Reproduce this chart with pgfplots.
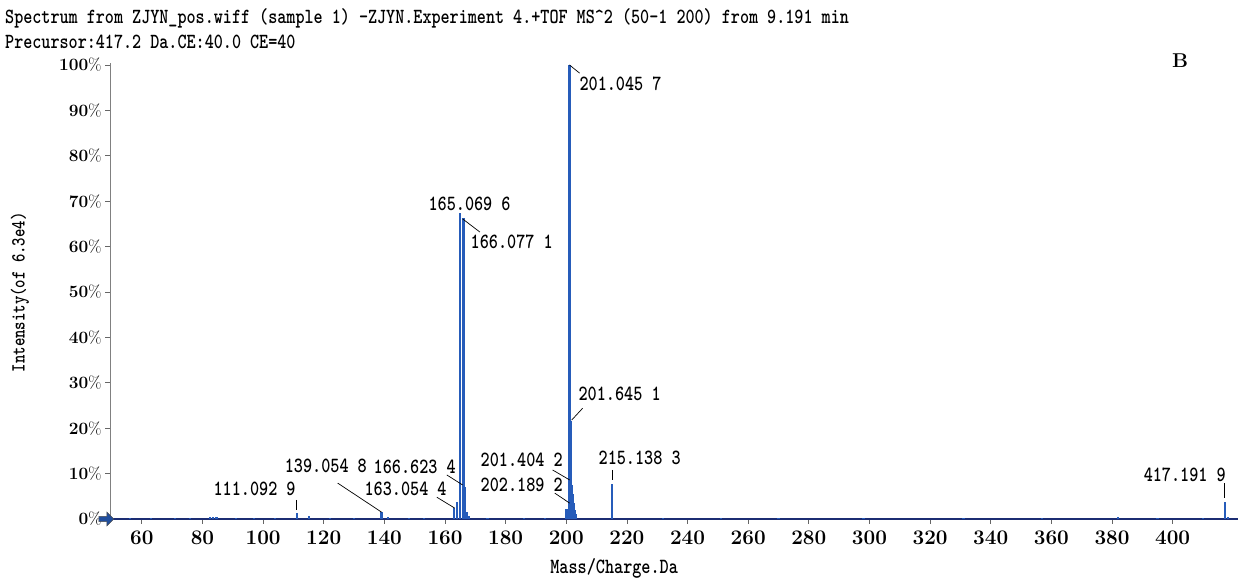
\documentclass[border=0pt]{standalone}
\usepackage{graphicx}
\usepackage{pgfplots}
\pgfplotsset{compat=1.18}
\usetikzlibrary{shapes.arrows}
\definecolor{peak}{RGB}{38,92,186}
\definecolor{base}{RGB}{28,45,115}
\newcommand\mt[2][21.7]{\scalebox{0.8}[1]{\ttfamily\bfseries\fontsize{#1}{#1}\selectfont #2}}
\begin{document}
\begin{tikzpicture}[x=1pt,y=1pt]
\path[use as bounding box] (0,0) rectangle (1239,580);
\node[anchor=west,inner sep=0pt] at (5,562) {\mt[21.6]{Spectrum from ZJYN\_pos.wiff (sample 1) -ZJYN.Experiment 4.+TOF MS\textasciicircum2 (50-1 200) from 9.191 min}};
\node[anchor=west,inner sep=0pt] at (5,538) {\mt[21.6]{Precursor:417.2 Da.CE:40.0 CE=40}};
\node at (1180,519) {\fontsize{20}{20}\selectfont\bfseries B};
\begin{axis}[
  at={(110pt,61pt)}, anchor=south west,
  scale only axis, width=1127.8pt, height=456.3pt,
  xmin=49.5, xmax=421.5, ymin=0, ymax=100.5,
  axis lines=left, axis line style={-},
  x axis line style={draw=base, line width=1.6pt},
  y axis line style={draw=gray, line width=1pt},
  xtick={60,80,...,400}, ytick={0,10,...,100},
  tick align=outside, major tick length=5pt,
  tick style={draw=gray!80!black, line width=0.8pt},
  yticklabel={\pgfmathprintnumber{\tick}\%},
  xticklabel style={font=\boldmath\fontsize{19.5}{20}\selectfont, yshift=-4pt},
  yticklabel style={font=\boldmath\fontsize{17}{18}\selectfont},
  xlabel={\mt{Mass/Charge.Da}},
  ylabel={\mt[20]{Intensity(of 6.3e4)}},
  xlabel style={at={(axis description cs:0.447,-0.1074)}, anchor=center},
  ylabel style={at={(axis description cs:-0.0798,0.497)}, anchor=center},
  clip=false,
]
\addplot[ycomb, draw=peak, line width=2.2pt, no marks] coordinates {
(56,0.3) (63,0.25) (71,0.3) (76,0.3) (82.4,0.5) (83.5,0.45) (84.6,0.35) (91,0.3) (97,0.3) (104,0.3)
(111.09,1.3) (115.1,0.7) (122,0.3) (130,0.3) (139.05,1.6) (141.2,0.45) (148,0.3) (153,0.3)
(163.05,2.5) (164.0,3.7) (165.07,67.4) (166.08,66.3) (166.62,7.0) (167.1,1.5) (168,0.6)
(174,0.3) (186,0.3) (193,0.3) (199.8,2.1) (200.4,2.1) (201.05,100) (201.40,8.5) (201.65,21.5)
(201.9,7.5) (202.19,5.5) (202.5,3.5) (202.8,2.0) (203.1,1.0)
(215.14,7.7) (232,0.3) (251,0.3) (270,0.3) (298,0.3) (331,0.3) (357,0.3) (382,0.5) (395,0.3)
(410,0.3) (417.19,3.8) (418.2,0.5)
};
\draw[line width=0.7pt] (axis cs:201.05,100) -- (axis cs:204.4,98.2);
\node at (axis cs:217.9,95.8) {\mt{201.045 7}};
\node at (axis cs:168.1,69.4) {\mt{165.069 6}};
\draw[line width=0.7pt] (axis cs:165.8,66.1) -- (axis cs:171.5,63.2);
\node at (axis cs:182.0,61.0) {\mt{166.077 1}};
\draw[line width=0.7pt] (axis cs:201.8,21.8) -- (axis cs:205.4,24.4);
\node at (axis cs:217.6,27.5) {\mt{201.645 1}};
\draw[line width=0.7pt] (axis cs:215.14,10.8) -- (axis cs:215.14,8.6);
\node at (axis cs:224.2,13.4) {\mt{215.138 3}};
\draw[line width=0.7pt] (axis cs:195.5,10.8) -- (axis cs:201.1,8.6);
\node at (axis cs:185.3,13.0) {\mt{201.404 2}};
\draw[line width=0.7pt] (axis cs:196.2,5.7) -- (axis cs:201.1,3.5);
\node at (axis cs:185.3,7.5) {\mt{202.189 2}};
\draw[line width=0.7pt] (axis cs:160.6,9.7) -- (axis cs:165.8,7.5);
\node at (axis cs:150.0,11.5) {\mt{166.623 4}};
\draw[line width=0.7pt] (axis cs:157.3,4.8) -- (axis cs:163.2,2.4);
\node at (axis cs:147.0,6.6) {\mt{163.054 4}};
\draw[line width=0.7pt] (axis cs:124.6,7.9) -- (axis cs:139.1,1.5);
\node at (axis cs:120.7,11.7) {\mt{139.054 8}};
\draw[line width=0.7pt] (axis cs:111.09,4.2) -- (axis cs:111.09,2.0);
\node at (axis cs:97.2,6.6) {\mt{111.092 9}};
\draw[line width=0.7pt] (axis cs:417.19,7.9) -- (axis cs:417.19,4.6);
\node at (axis cs:404.0,9.7) {\mt{417.191 9}};
\node[single arrow, fill=peak!85!black, draw=black!70, line width=0.5pt, minimum height=15pt, minimum width=14pt, single arrow head extend=2pt, inner sep=1pt, xshift=-5pt] at (axis cs:49.5,0) {};
\end{axis}
\end{tikzpicture}
\end{document}
